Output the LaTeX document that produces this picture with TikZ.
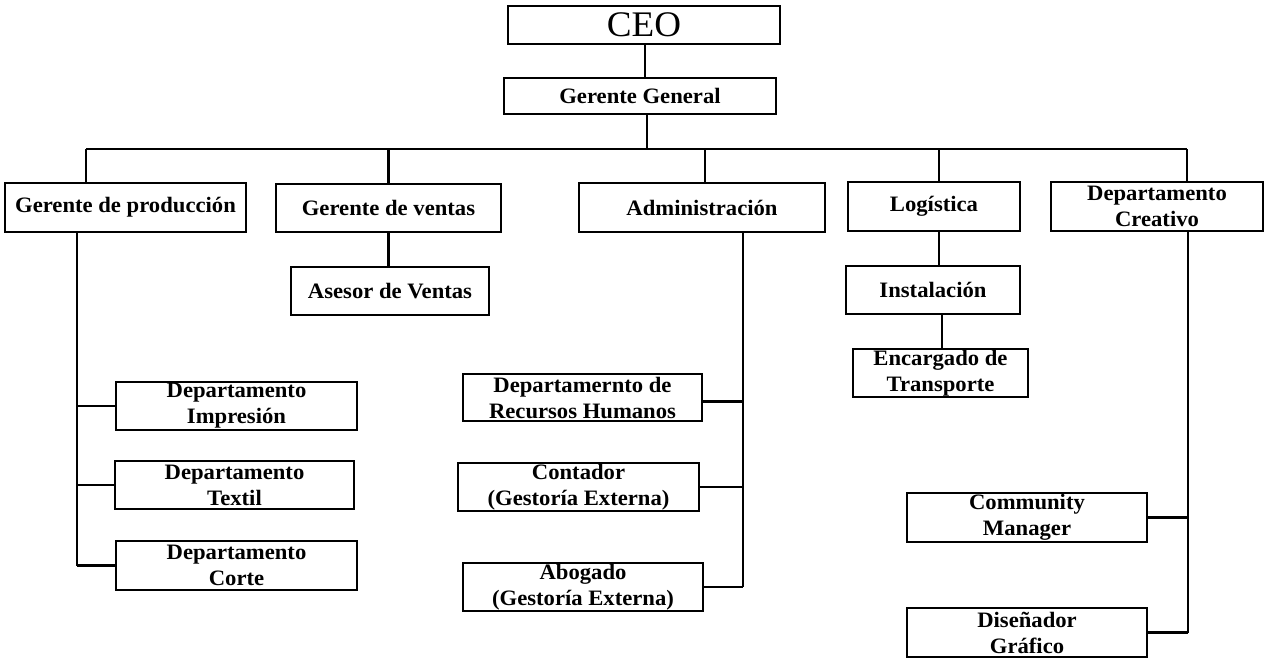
\documentclass[tikz,border=0pt]{standalone}
\usepackage{fontspec}
\setmainfont[FakeStretch=1.03]{Liberation Serif}
\begin{document}
\begin{tikzpicture}[x=1pt,y=-1pt,
  box/.style={draw, line width=2.3pt, rectangle, inner sep=0pt, align=center,
    font=\fontsize{22}{26}\selectfont\bfseries},
  link/.style={line width=2.5pt}]
\useasboundingbox (0,0) rectangle (1268,658);
% top
\node[box, minimum width=272pt, minimum height=38pt, font=\fontsize{36}{38}\selectfont] (ceo) at (644,25) {CEO};
\node[box, minimum width=272pt, minimum height=36pt] (gg) at (640,96) {Gerente General};
% level 2
\node[box, minimum width=241pt, minimum height=49pt] (prod) at (125.5,207.5) {Gerente de producción};
\node[box, minimum width=225pt, minimum height=48pt] (ventas) at (388.5,208) {Gerente de ventas};
\node[box, minimum width=246pt, minimum height=49pt] (admin) at (702,207.5) {Administración};
\node[box, minimum width=172pt, minimum height=49pt] (log) at (934,206.5) {Logística};
\node[box, minimum width=212pt, minimum height=49pt] (creat) at (1157,206.5) {Departamento\\Creativo};
% level 3
\node[box, minimum width=198pt, minimum height=48pt] (asesor) at (390,291) {Asesor de Ventas};
\node[box, minimum width=174pt, minimum height=48pt] (inst) at (933,290) {Instalación};
\node[box, minimum width=175pt, minimum height=48pt] (encar) at (940.5,373) {Encargado de\\Transporte};
% produccion
\node[box, minimum width=241pt, minimum height=48pt] (impr) at (236.5,406) {Departamento\\Impresión};
\node[box, minimum width=239pt, minimum height=48pt] (textil) at (234.5,485) {Departamento\\Textil};
\node[box, minimum width=241pt, minimum height=49pt] (corte) at (236.5,565.5) {Departamento\\Corte};
% administracion
\node[box, minimum width=239pt, minimum height=47pt] (rrhh) at (582.5,397.5) {Departamernto de\\Recursos Humanos};
\node[box, minimum width=241pt, minimum height=48pt] (contador) at (578.5,487) {Contador\\(Gestoría Externa)};
\node[box, minimum width=240pt, minimum height=48pt] (abogado) at (583,587) {Abogado\\(Gestoría Externa)};
% creativo
\node[box, minimum width=240pt, minimum height=49pt] (community) at (1027,517.5) {Community\\Manager};
\node[box, minimum width=240pt, minimum height=49pt] (disenador) at (1027,632.5) {Diseñador\\Gráfico};
% coordinates
\coordinate (busL) at (86,149);
\coordinate (busR) at (1187,149);
\coordinate (pspine) at (77,0);
\coordinate (aspine) at (743,0);
\coordinate (cspine) at (1188,0);
% connectors
\draw[link] (ceo.south -| gg.north) ++(5,0) coordinate (c1) -- (c1 |- gg.north);
\draw[link] ([xshift=7pt]gg.south) -- ([xshift=7pt]gg.south |- busL);
\draw[link] (busL) -- (busR);
\draw[link] (busL) -- (busL |- prod.north);
\draw[link] (ventas.north |- busL) -- (ventas.north);
\draw[link] ([xshift=3pt]admin.north |- busL) -- ([xshift=3pt]admin.north);
\draw[link] ([xshift=5pt]log.north |- busL) -- ([xshift=5pt]log.north);
\draw[link] (busR) -- (busR |- creat.north);
\draw[link] (ventas.south) -- (ventas.south |- asesor.north);
\draw[link] ([xshift=5pt]log.south) -- ([xshift=5pt]log.south |- inst.north);
\draw[link] ([xshift=1.5pt]encar.north) -- ([xshift=1.5pt]encar.north |- inst.south);
% produccion spine
\draw[link] (prod.south -| pspine) -- (corte.west -| pspine);
\draw[link] (impr.west) -- (impr.west -| pspine);
\draw[link] (textil.west) -- (textil.west -| pspine);
\draw[link] (corte.west) -- (corte.west -| pspine);
% administracion spine
\draw[link] (admin.south -| aspine) -- (abogado.east -| aspine);
\draw[link] ([yshift=-4pt]rrhh.east) -- ([yshift=-4pt]rrhh.east -| aspine);
\draw[link] (contador.east) -- (contador.east -| aspine);
\draw[link] (abogado.east) -- (abogado.east -| aspine);
% creativo spine
\draw[link] (creat.south -| cspine) -- (disenador.east -| cspine);
\draw[link] (community.east) -- (community.east -| cspine);
\draw[link] (disenador.east) -- (disenador.east -| cspine);
\end{tikzpicture}
\end{document}
